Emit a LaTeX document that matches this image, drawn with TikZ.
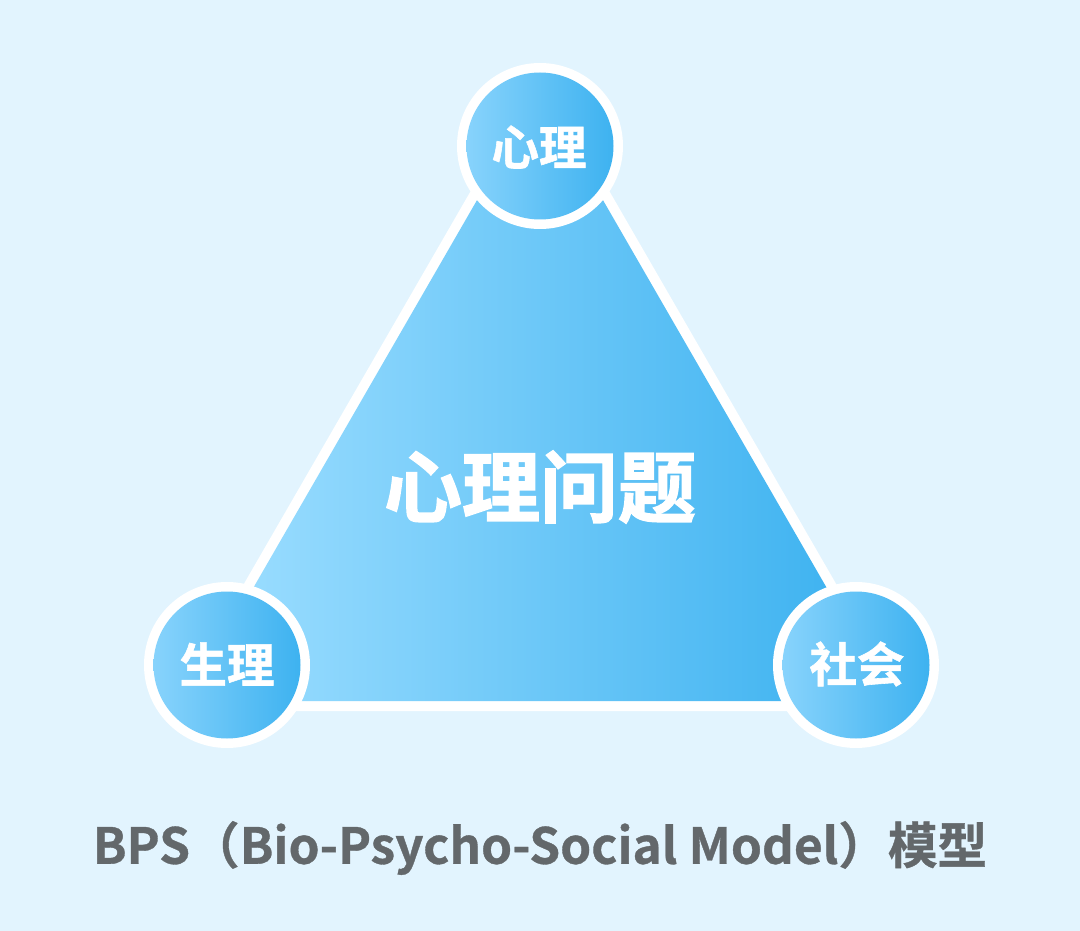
\documentclass[tikz,border=0pt]{standalone}
\usepackage{fontspec}
\newfontfamily\cjk{Noto Sans CJK SC Bold}[FakeBold=1.2]
\newfontfamily\cjkb{Noto Sans CJK SC Bold}[FakeBold=1.8]
\newfontfamily\cjkt{Noto Sans CJK SC Bold}[FakeBold=0.7]
\usetikzlibrary{calc}
\definecolor{bgc}{HTML}{E2F4FE}
\definecolor{lightc}{HTML}{9BDDFF}
\definecolor{disclight}{HTML}{88D3FC}
\definecolor{darkc}{HTML}{3DB2F0}
\definecolor{titlec}{HTML}{63686B}
\tikzset{
  x=1pt,y=-1pt,
  disctext/.style={text=white,font=\cjk\fontsize{47.5}{47.5}\selectfont,inner sep=0pt},
  bigtext/.style={text=white,font=\cjkb\fontsize{78}{78}\selectfont,inner sep=0pt},
  titletext/.style={text=titlec,font=\cjkt\fontsize{49.6}{49.6}\selectfont,inner sep=0pt}
}
\newcommand{\gradtri}{(540,91) -- (892,701) -- (188,701) -- cycle}
\newcommand{\gradcirc}[1]{%
  \fill[white] (#1) circle[radius=83];
  \begin{scope}
    \clip (#1) circle[radius=73.5];
    \shade[left color=disclight,right color=darkc] ($(#1)+(-74,-74)$) rectangle ($(#1)+(74,74)$);
  \end{scope}}
\begin{document}
\begin{tikzpicture}
\useasboundingbox (0,0) rectangle (1080,931);
\fill[bgc] (0,0) rectangle (1080,931);
\fill[white,line join=miter] (540,71) -- (909.5,711) -- (170.5,711) -- cycle;
\begin{scope}
  \clip \gradtri;
  \shade[left color=lightc,right color=darkc] (230,91) rectangle (850,701);
\end{scope}
\coordinate (ct) at (540,146);
\coordinate (cl) at (227,665);
\coordinate (cr) at (856,665);
\gradcirc{ct}
\gradcirc{cl}
\gradcirc{cr}
\node[disctext] (psy) at (539,147) {心理};
\node[disctext] (bio) at (227,664) {生理};
\node[disctext] (soc) at (857,664) {社会};
\node[bigtext] (main) at (540,487) {心理问题};
\node[titletext] (title) at (540,848) {BPS（Bio-Psycho-Social Model）模型};
\end{tikzpicture}
\end{document}
